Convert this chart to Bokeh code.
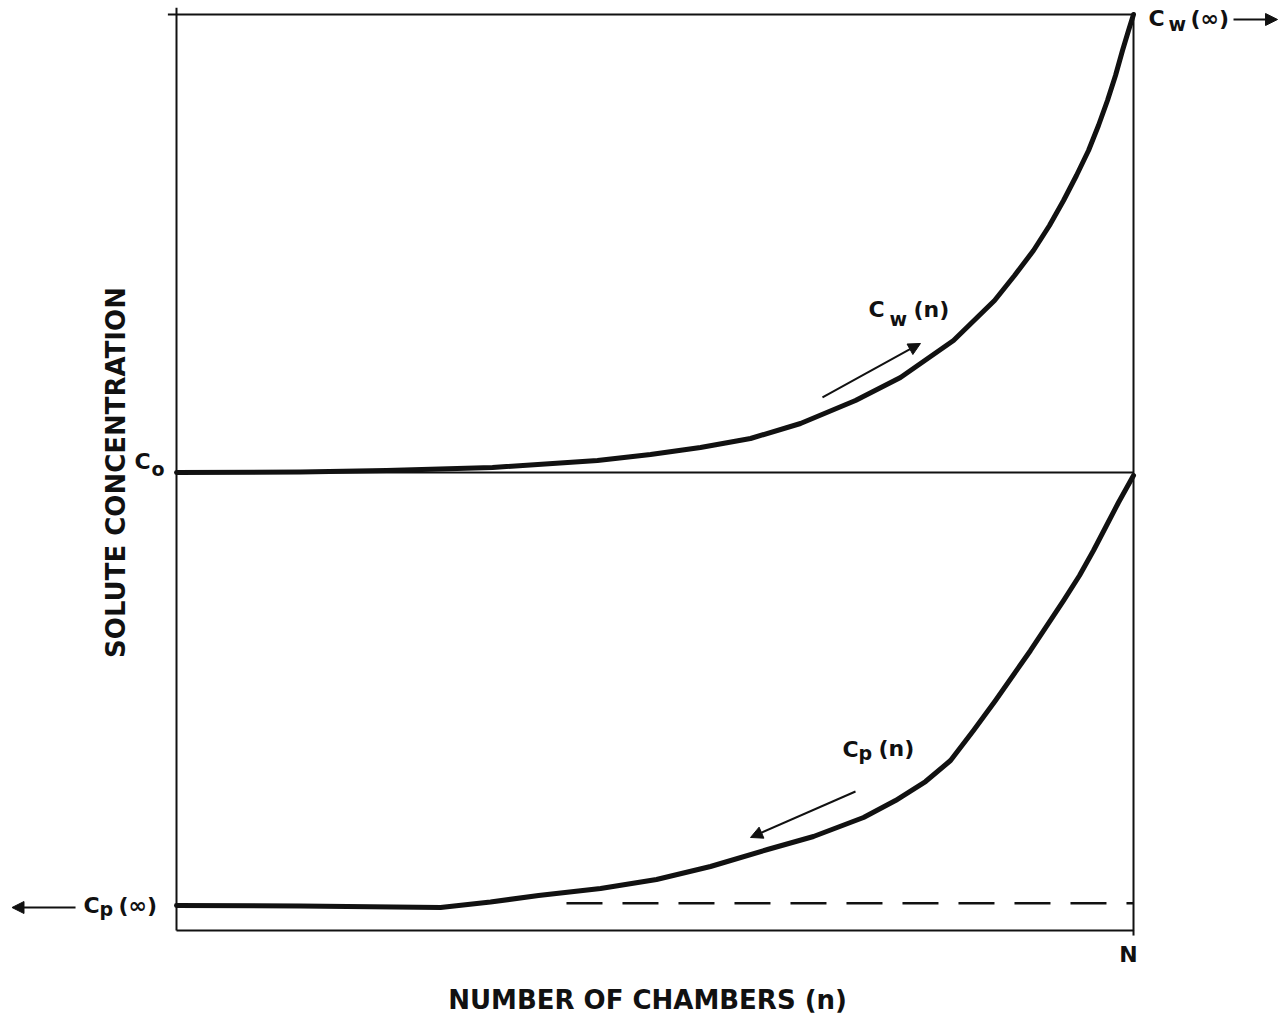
from math import pi

from bokeh.core.properties import value
from bokeh.embed import file_html
from bokeh.models import Arrow, NormalHead, Range1d
from bokeh.plotting import figure
from bokeh.resources import INLINE

# ---- data -------------------------------------------------------------
# relative chamber position n/N
n_upper = [0.0, 0.1296, 0.2194, 0.3302, 0.4399, 0.4953, 0.5475, 0.5998, 0.6520,
           0.7095, 0.7565, 0.8119, 0.8548, 0.8757, 0.8955, 0.9122, 0.9269, 0.9404,
           0.9530, 0.9634, 0.9728, 0.9812, 0.9885, 0.9948, 1.0]
# wash-side concentration C_w(n), in units of C0
c_w = [1.0, 1.0011, 1.0044, 1.0109, 1.0262, 1.0393, 1.0546, 1.0742, 1.1070,
       1.1572, 1.2074, 1.2882, 1.3755, 1.4301, 1.4847, 1.5393, 1.5939, 1.6485,
       1.7031, 1.7576, 1.8122, 1.8668, 1.9214, 1.9651, 2.0]

n_lower = [0.0, 0.1296, 0.2759, 0.3281, 0.3783, 0.4431, 0.5016, 0.5580, 0.6176,
           0.6656, 0.7179, 0.7513, 0.7827, 0.8088, 0.8328, 0.8558, 0.8924, 0.9269,
           0.9436, 0.9582, 0.9718, 0.9843, 1.0]
# product-side concentration C_p(n), in units of C0
c_p = [0.0546, 0.0535, 0.0502, 0.0622, 0.0764, 0.0917, 0.1114, 0.1397, 0.1769,
       0.2052, 0.2467, 0.2838, 0.3253, 0.3712, 0.4367, 0.5022, 0.6114, 0.7205,
       0.7751, 0.8297, 0.8843, 0.9345, 0.9934]

C0 = 1.0
CW_INF = 2.0
CP_INF = 0.0596
CP_INF_DASH_START = 0.4075
N_END = 1.0

# ---- figure -----------------------------------------------------------
FONT = value("DejaVu Sans")
INK = "#111111"

p = figure(width=1284, height=1016,
           x_range=Range1d(-0.18391, 1.15778), y_range=Range1d(-0.18777, 2.03057),
           output_backend="svg", toolbar_location=None,
           x_axis_location=None, y_axis_location=None,
           min_border=0, outline_line_color=None,
           background_fill_color="white", border_fill_color="white")
p.grid.visible = False

# frame of the diagram
p.line([0, N_END, N_END, 0, 0], [0, 0, CW_INF, CW_INF, 0], line_color=INK, line_width=2)
p.line([0, 0], [CW_INF, 2.015], line_color=INK, line_width=2)
p.line([-0.009, 0], [CW_INF, CW_INF], line_color=INK, line_width=2)
p.line([N_END, N_END], [0, -0.011], line_color=INK, line_width=2)

# initial concentration level
p.line([0, N_END], [C0, C0], line_color=INK, line_width=2)

# limiting product concentration
p.line([CP_INF_DASH_START, N_END], [CP_INF, CP_INF], line_color=INK, line_width=2.5,
       line_dash="36 20")

# concentration profiles
p.line(n_upper, c_w, line_color=INK, line_width=5, line_join="round", line_cap="round")
p.line(n_lower, c_p, line_color=INK, line_width=5, line_join="round", line_cap="round")


# direction arrows
def arrow(xs, ys, xe, ye, size=12):
    p.add_layout(Arrow(end=NormalHead(size=size, fill_color=INK, line_color=INK),
                       x_start=xs, y_start=ys, x_end=xe, y_end=ye,
                       line_color=INK, line_width=2))


arrow(0.6750, 1.1638, 0.7774, 1.2817)
arrow(0.7095, 0.3035, 0.5998, 0.2031)
arrow(1.1045, 1.9891, 1.1505, 1.9891)
arrow(-0.1055, 0.0502, -0.1719, 0.0502)


def txt(x, y, s, size="22px", align="left", baseline="alphabetic", angle=0.0):
    p.text(x=[x], y=[y], text=[s], text_font=FONT, text_font_style="bold",
           text_font_size=size, text_align=align, text_baseline=baseline,
           text_color=INK, angle=angle)


# C0 marker
txt(-0.0439, 1.0240, "C")
txt(-0.0261, 1.0066, "o", size="19px")

# C_w(inf)
txt(1.0157, 1.9913, "C")
txt(1.0366, 1.9803, "w", size="19px")
txt(1.0596, 1.9913, "(∞)", size="22px")

# C_p(inf)
txt(-0.0972, 0.0546, "C")
txt(-0.0805, 0.0459, "p", size="19px")
txt(-0.0606, 0.0546, "(∞)", size="22px")

# curve labels
txt(0.7231, 1.3559, "C")
txt(0.7450, 1.3362, "w", size="19px")
txt(0.7701, 1.3559, "(n)", size="22px")

txt(0.6959, 0.3952, "C")
txt(0.7126, 0.3865, "p", size="19px")
txt(0.7335, 0.3974, "(n)", size="22px")

# axis marks and titles
txt(0.9948, -0.0524, "N", align="center")
txt(0.4922, -0.1507, "NUMBER OF CHAMBERS (n)", size="26px", align="center")
txt(-0.0627, 1.0, "SOLUTE CONCENTRATION", size="26px", align="center", angle=pi / 2)

open("out.html", "w").write(file_html(p, INLINE))
